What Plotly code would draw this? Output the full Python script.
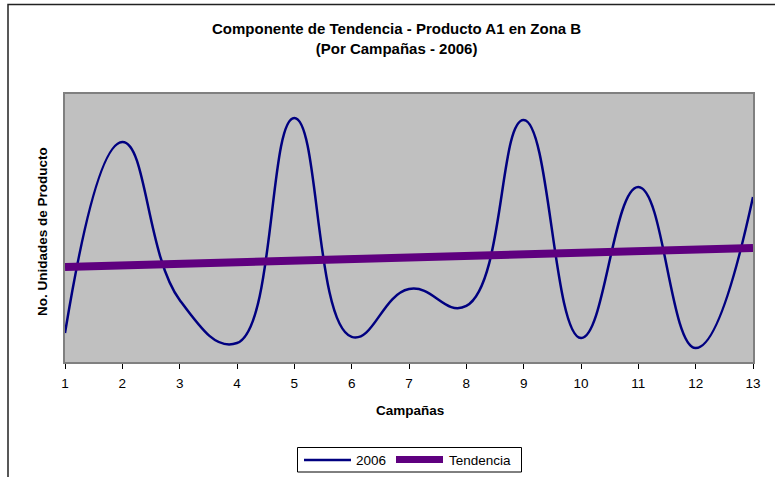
import plotly.graph_objects as go

campanas = [1, 2, 3, 4, 5, 6, 7, 8, 9, 10, 11, 12, 13]
serie_2006 = [151, 1149, 324, 99, 1275, 131, 381, 293, 1264, 125, 914, 73, 862]
tendencia = [496, 504, 513, 521, 529, 538, 546, 554, 563, 571, 579, 588, 596]
tick_labels = [str(c) for c in campanas]
legend_names = ["2006", "Tendencia"]

FONT = "Liberation Sans, Arial, sans-serif"
NAVY = "#000080"
PURPLE = "#5f007f"


def px_x(p):
    return (p - 65) / 688


def px_y(p):
    return (362 - p) / 268


fig = go.Figure()
fig.add_trace(go.Scatter(
    x=campanas, y=serie_2006, name=legend_names[0], mode="lines",
    line=dict(color=NAVY, width=2.5, shape="spline", smoothing=1.3),
))
fig.add_trace(go.Scatter(
    x=campanas, y=tendencia, name=legend_names[1], mode="lines",
    line=dict(color=PURPLE, width=8),
))

shapes = [
    dict(type="rect", xref="paper", yref="paper",
         x0=px_x(8), x1=px_x(800), y0=px_y(500), y1=px_y(4.5),
         line=dict(color="#222222", width=1.5), fillcolor="rgba(0,0,0,0)",
         layer="below"),
    # legend box
    dict(type="rect", xref="paper", yref="paper",
         x0=px_x(297.5), x1=px_x(521.5), y0=px_y(472), y1=px_y(447.5),
         line=dict(color="black", width=1), fillcolor="white"),
    dict(type="line", xref="paper", yref="paper",
         x0=px_x(304), x1=px_x(351), y0=px_y(460), y1=px_y(460),
         line=dict(color=NAVY, width=2.5)),
    dict(type="line", xref="paper", yref="paper",
         x0=px_x(396), x1=px_x(443), y0=px_y(459.5), y1=px_y(459.5),
         line=dict(color=PURPLE, width=7)),
]

fig.update_layout(
    width=775, height=477,
    margin=dict(l=65, r=22, t=94, b=115, autoexpand=False),
    paper_bgcolor="white",
    plot_bgcolor="#c0c0c0",
    font=dict(family=FONT, size=13.5, color="black"),
    showlegend=False,
    xaxis=dict(
        range=[1, 13], tickmode="array", tickvals=campanas, ticktext=tick_labels,
        showgrid=False, zeroline=False,
        showline=True, linecolor="#808080", linewidth=2, mirror=True,
        ticks="outside", ticklen=5, tickcolor="black", tickwidth=1,
        tickfont=dict(family=FONT, size=13.5), ticklabelstandoff=3,
    ),
    yaxis=dict(
        range=[0, 1400], showticklabels=False, showgrid=False, zeroline=False,
        showline=True, linecolor="#808080", linewidth=2, mirror=True,
        ticks="",
    ),
    annotations=[
        dict(text="<b>Componente de Tendencia - Producto A1 en Zona B</b><br><b>(Por Campañas - 2006)</b>",
             xref="paper", yref="paper", x=px_x(396), y=px_y(38),
             xanchor="center", yanchor="middle", showarrow=False,
             font=dict(family=FONT, size=15)),
        dict(text="<b>Campañas</b>", xref="paper", yref="paper",
             x=px_x(410), y=px_y(410), xanchor="center", yanchor="middle",
             showarrow=False, font=dict(family=FONT, size=13.5)),
        dict(text="<b>No. Unidades de Producto</b>", xref="paper", yref="paper",
             x=px_x(42), y=px_y(232), xanchor="center", yanchor="middle",
             textangle=-90, showarrow=False, font=dict(family=FONT, size=13.5)),
        dict(text=legend_names[0], xref="paper", yref="paper",
             x=px_x(354), y=px_y(460), xanchor="left", yanchor="middle",
             showarrow=False, font=dict(family=FONT, size=13.5)),
        dict(text=legend_names[1], xref="paper", yref="paper",
             x=px_x(447), y=px_y(460), xanchor="left", yanchor="middle",
             showarrow=False, font=dict(family=FONT, size=13.5)),
    ],
    shapes=shapes,
)

fig.write_html("out.html")
